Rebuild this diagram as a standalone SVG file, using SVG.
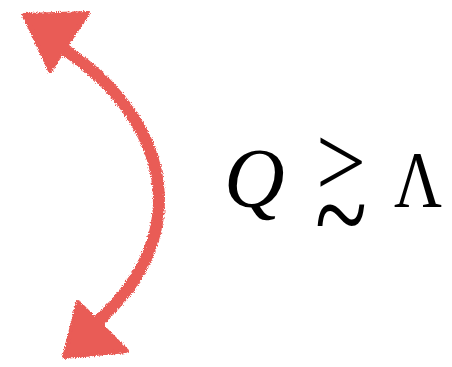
<svg xmlns="http://www.w3.org/2000/svg" width="452" height="367" viewBox="0 0 452 367">
  <style>
    .rough { fill: #e95b57; stroke: #e95b57; stroke-linejoin: round; filter: url(#rough); }
    .shaft { fill: none; stroke: #e95b57; stroke-width: 12; stroke-linecap: round; filter: url(#rough); }
    .math { font-family: "Liberation Serif", "DejaVu Serif", serif; fill: #000; }
  </style>
  <defs>
    <filter id="rough" x="-20%" y="-20%" width="140%" height="140%">
      <feTurbulence type="fractalNoise" baseFrequency="0.9" numOctaves="2" seed="3" result="n"/>
      <feDisplacementMap in="SourceGraphic" in2="n" scale="5" xChannelSelector="R" yChannelSelector="G"/>
    </filter>
  </defs>
  <rect width="452" height="367" fill="#fff"/>
  <g id="connectors">
    <path class="shaft" d="M 62 48 C 165 115, 200 230, 97 322"/>
    <polygon class="rough" stroke-width="4" points="24,15 88,13 50,71"/>
    <polygon class="rough" stroke-width="4" points="78,302 64,357 127,351"/>
  </g>
  <g id="label">
    <text class="math" x="224" y="207" font-size="84" font-style="italic">Q</text>
    <text class="math"><tspan x="316" y="196" font-size="102" textLength="50" lengthAdjust="spacingAndGlyphs">&gt;</tspan><tspan x="315" y="258" font-size="130" textLength="52" lengthAdjust="spacingAndGlyphs">~</tspan></text>
    <text class="math" x="394" y="207" font-size="80" textLength="48" lengthAdjust="spacingAndGlyphs">Λ</text>
  </g>
</svg>
